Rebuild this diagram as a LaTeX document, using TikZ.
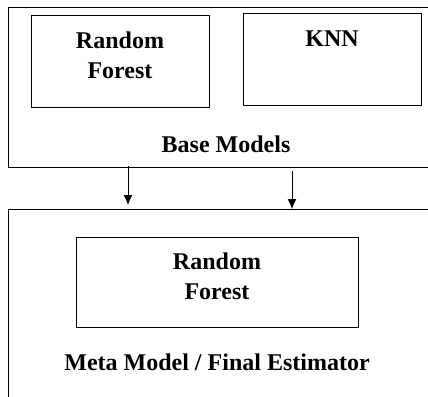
\documentclass[tikz,border=0pt]{standalone}
\usepackage{fontspec}
\usetikzlibrary{arrows.meta}
\setmainfont{Liberation Serif}
\tikzset{
    box/.style={draw, line width=1pt, inner sep=0pt},
    frame/.style={draw, line width=1.3pt, inner sep=0pt, anchor=north west, minimum width=440pt},
    txt/.style={anchor=north, align=center, inner sep=0pt},
    arr/.style={-{Latex[length=10pt,width=9pt]}, line width=1pt}
}
\begin{document}
\begin{tikzpicture}[x=1pt, y=-1pt, font=\fontsize{24}{30}\selectfont\bfseries]
        \useasboundingbox (0,0) rectangle (428,396);
        \clip (0,0) rectangle (428,396);

        %frame
        \node[frame, minimum height=160pt] (base) at (8,7) {};
        \node[frame, minimum height=200pt] (meta) at (8,209) {};

        %models
        \node[box, minimum width=178pt, minimum height=91pt] (rfa) at (120,61.5) {};
        \node[box, minimum width=178pt, minimum height=91pt] (knn) at (332,59.5) {};
        \node[box, minimum width=282pt, minimum height=90pt] (rfb) at (217,282) {};

        %labels
        \node[txt] (rfat) at ([yshift=-16.5pt]rfa.north) {Random\\Forest};
        \node[txt] (knnt) at ([yshift=-17pt]knn.north) {KNN};
        \node[txt] (rfbt) at ([yshift=-15.8pt]rfb.north) {Random\\Forest};
        \node[txt] (baset) at (226,135.6) {Base Models};
        \node[txt] (metat) at (217,353.6) {Meta Model / Final Estimator};

        %arrows
        \draw[arr]([xshift=120pt, yshift=2pt]base.south west)--([xshift=120pt, yshift=4pt]meta.north west);
        \draw[arr]([xshift=284pt, yshift=-3pt]base.south west)--([xshift=284pt]meta.north west);
    \end{tikzpicture}
\end{document}
